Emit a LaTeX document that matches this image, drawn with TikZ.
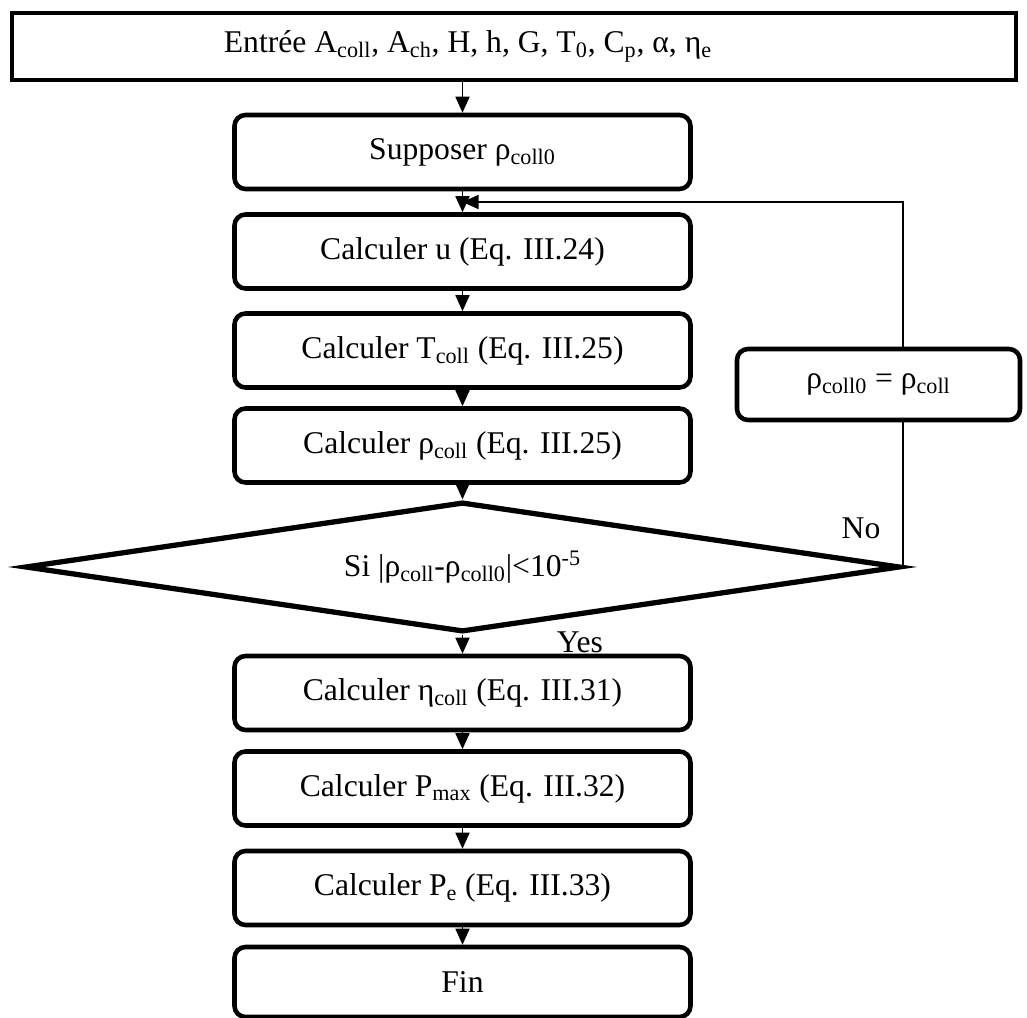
\documentclass[tikz,border=0pt]{standalone}
\usepackage{fontspec}
\setmainfont{Liberation Serif}
\usetikzlibrary{shapes.geometric,arrows.meta}

\begin{document}
\begin{tikzpicture} [every node/.style={font=\fontsize{18}{21.5}\selectfont},
                box_style/.style={draw, line width=2.6pt, rounded corners=0.22cm, minimum width=9.12cm, minimum height=1.48cm, inner sep=0pt},
                edge_style/.style={draw=black, line width=1pt, -{Triangle[length=0.32cm,width=0.28cm]}}]
                \tikzset{test box/.style={draw, diamond, aspect=6.7, line width=3pt, minimum width=17.5cm, minimum height=2.6cm, inner sep=0pt}}
                \tikzset{plain edge/.style={draw=black, line width=1pt}}
                \useasboundingbox (0,0) rectangle (20.54,-20.36);
                \node [draw, line width=2.6pt, minimum width=20.08cm, minimum height=1.34cm] (entree) at (10.28,-0.93) {};
                \node (entreetxt) at (9.36,-0.93) {Entrée A\textsubscript{coll}, A\textsubscript{ch}, H, h, G, T\textsubscript{0}, C\textsubscript{p}, α, η\textsubscript{e}};
                \node [box_style] (supp) at (9.25,-3.04) {Supposer ρ\textsubscript{coll0}};
                \node [box_style] (calcu) at (9.25,-5.03) {Calculer u (Eq. III.24)};
                \node [box_style] (calctc) at (9.25,-7.01) {Calculer T\textsubscript{coll} (Eq. III.25)};
                \node [box_style] (calcrho) at (9.25,-8.91) {Calculer ρ\textsubscript{coll} (Eq. III.25)};
                \node [test box] (dia) at (9.25,-11.34) {Si |ρ\textsubscript{coll}-ρ\textsubscript{coll0}|<10\textsuperscript{-5}};
                \node [box_style] (calceta) at (9.25,-13.86) {Calculer η\textsubscript{coll} (Eq. III.31)};
                \node [box_style] (calcpmax) at (9.25,-15.77) {Calculer P\textsubscript{max} (Eq. III.32)};
                \node [box_style] (calcpe) at (9.25,-17.76) {Calculer P\textsubscript{e} (Eq. III.33)};
                \node [box_style, minimum height=1.4cm] (fin) at (9.25,-19.64) {Fin};
                \node [box_style, minimum width=5.66cm, minimum height=1.42cm] (rho0) at (17.57,-7.69) {ρ\textsubscript{coll0} = ρ\textsubscript{coll}};
                \node (no) at (17.22,-10.56) {No};
                \node (yes) at (11.6,-12.84) {Yes};
                \coordinate (retour) at (9.25,-4.04);
                \draw [edge_style] (entree.south -| supp.north) -- (supp.north);
                \draw [edge_style] (supp) edge (calcu);
                \draw [edge_style] (calcu) edge (calctc);
                \draw [edge_style] (calctc) edge (calcrho);
                \draw [edge_style] (calcrho) edge (dia);
                \draw [edge_style] (dia) edge (calceta);
                \draw [edge_style] (calceta) edge (calcpmax);
                \draw [edge_style] (calcpmax) edge (calcpe);
                \draw [edge_style] (calcpe) edge (fin);
                \draw [plain edge] (dia.east) -- (dia.east |- rho0.south);
                \draw [edge_style] (dia.east |- rho0.north) |- (retour);
            \end{tikzpicture}
\end{document}
